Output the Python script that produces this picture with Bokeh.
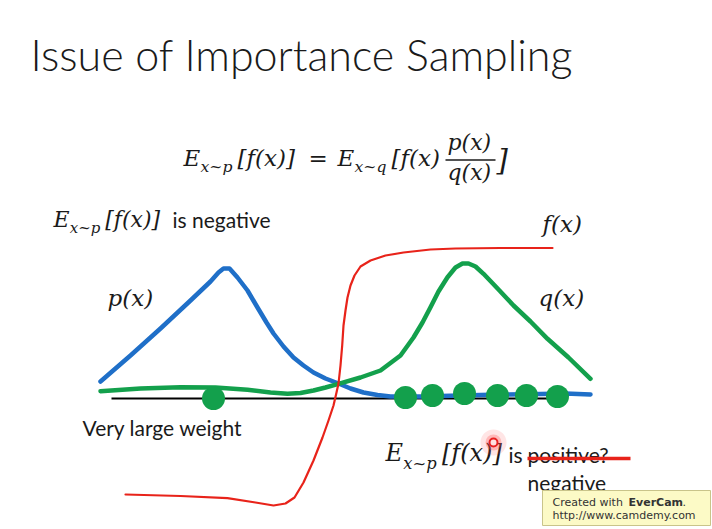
from bokeh.plotting import figure
from bokeh.models import Range1d
from bokeh.core.properties import value
from bokeh.embed import file_html
from bokeh.resources import INLINE

# ---- data (in slide pixel units, y grows downward) ----
p_x = [100, 130, 160, 190, 210, 218, 223, 229, 237, 247, 257, 266, 273, 283, 293, 303, 313, 325, 338, 350, 363, 377, 390, 420, 460, 500, 540, 565, 590]
p_y = [381, 355, 328, 300, 281, 272, 268, 268, 277, 290, 307, 322, 333, 346, 357, 365, 372, 378, 383, 388, 392, 394.5, 396, 396, 395, 394, 393.5, 393, 394]

q_x = [100, 140, 180, 215, 247, 270, 287, 300, 313, 325, 338, 360, 380, 400, 413, 422, 430, 438, 447, 455, 462, 468, 475, 483, 498, 513, 530, 547, 568, 590]
q_y = [390.7, 388, 386.7, 387, 389.3, 392, 393.3, 392.5, 390, 387, 383.3, 377, 370, 355, 337, 322, 306.7, 291, 276.7, 267, 263, 263, 266, 273.3, 289, 305, 321, 338.3, 357, 378.3]

f_x = [125, 180, 227, 255, 273, 285, 294, 303, 313, 322, 328, 333, 336, 338, 340, 341.7, 343, 345, 347, 350, 354, 360, 370, 385, 403, 430, 455, 500, 552]
f_y = [494, 495.5, 497.7, 502, 505, 503, 497, 482, 460, 437, 420, 405, 392, 383, 365, 345, 325, 310, 297, 285, 275, 266, 260, 255, 252, 249, 248, 247.5, 247.5]

axis_x = [111, 566]
axis_y = [398, 398]

sample_x = [213, 405, 432, 464, 497, 526, 557]
sample_y = [398, 397, 395, 393, 395, 395, 396]

BLUE = "#1f6fc8"
GREEN = "#13a04c"
RED = "#e8231a"
INK = "#1a1a1a"

p = figure(width=712, height=529, x_range=Range1d(0, 712), y_range=Range1d(529, 0),
           output_backend="svg", toolbar_location=None, x_axis_type=None, y_axis_type=None,
           min_border=0, outline_line_color=None,
           background_fill_color="white", border_fill_color="white")
p.grid.visible = False

# curves
p.line(axis_x, axis_y, line_color="black", line_width=2)
p.line(p_x, p_y, line_color=BLUE, line_width=4.5, line_join="round", line_cap="round")
p.line(q_x, q_y, line_color=GREEN, line_width=4.5, line_join="round", line_cap="round")
p.line(f_x, f_y, line_color=RED, line_width=2.2, line_join="round", line_cap="round")
p.scatter(sample_x, sample_y, size=23, fill_color=GREEN, line_color=None)

MATH = "DejaVu Serif"
SANS = "Lato"
SHIFT = 0.38  # baseline correction, in em


def txt(x, y, s, size, font=SANS, style="normal", color=INK):
    p.text(x=[x], y=[y - SHIFT * size], text=[s], text_font=value(font), text_font_size=f"{size}px",
           text_font_style=style, text_color=color, text_baseline="alphabetic",
           text_align="left")


def expect(x, y, size, sub, body):
    txt(x, y, "E", size, MATH, "italic")
    txt(x + 0.74 * size, y + 0.28 * size, sub, size * 0.68, MATH, "italic")
    txt(x + 2.35 * size, y, body, size, MATH, "italic")


# title
txt(30, 70, "Issue of Importance Sampling", 43, "Lato Light, Lato")

# formula
expect(183, 166, 23, "x~p", "[f(x)]")
txt(308, 166, "=", 23, MATH)
expect(337, 166, 23, "x~q", "[f(x)")
txt(447, 150, "p(x)", 22, MATH, "italic")
p.line([445, 495], [159.5, 159.5], line_color=INK, line_width=1.3)
txt(447, 180, "q(x)", 22, MATH, "italic")
txt(496, 171, "]", 29, MATH, "italic")

# left statement
expect(53, 227, 22, "x~p", "[f(x)]")
txt(172, 227, "is negative", 21)

# curve labels
txt(107, 306, "p(x)", 23, MATH, "italic")
txt(538, 306, "q(x)", 23, MATH, "italic")
txt(542, 232, "f(x)", 23, MATH, "italic")

txt(82, 435, "Very large weight", 21)

# bottom statement
expect(385, 462, 24, "x~p", "[f(x)]")
txt(508, 462, "is", 21)
txt(527, 462, "positive?", 21)
p.line([527, 630], [458, 458], line_color=RED, line_width=3.5)
txt(527, 490, "negative", 21)

# pointer highlight
p.scatter([493], [442], size=26, fill_color="#ff5050", fill_alpha=0.15, line_color=None)
p.scatter([493], [442], size=16, fill_color="#ff5050", fill_alpha=0.3, line_color=None)
p.scatter([493], [442], size=8, fill_color="#ffe0e0", line_color="#e82020", line_width=2)

# watermark
p.quad(left=542, right=710, top=490, bottom=525, fill_color="#fcfac6", line_color="#c9c48a", line_width=1)
txt(552, 506, "Created with ", 11, "DejaVu Sans", color="#333333")
txt(628, 506, "EverCam", 11, "DejaVu Sans", "bold", "#333333")
txt(682, 506, ".", 11, "DejaVu Sans", color="#333333")
txt(552, 519, "http://www.camdemy.com", 11, "DejaVu Sans", color="#333333")

open("out.html", "w").write(file_html(p, INLINE))
